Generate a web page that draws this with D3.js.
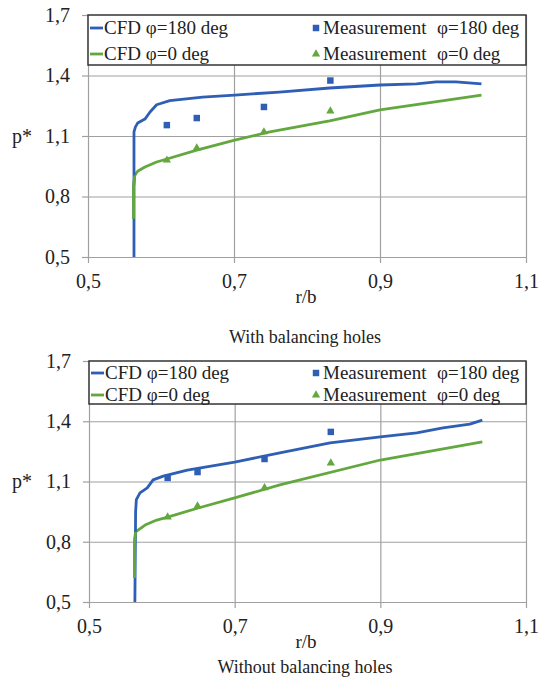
<!DOCTYPE html>
<html>
<head>
<meta charset="utf-8">
<script src="https://cdn.jsdelivr.net/npm/d3@7"></script>
<style>
body { margin: 0; background: #fff; }
svg text { font-family: "Liberation Serif", "Times New Roman", serif; fill: #222; }
</style>
</head>
<body>
<svg id="chart" width="540" height="680"></svg>
<script>
// axis ticks
var xTicks = [0.5, 0.7, 0.9, 1.1];
var xTickLabels = ["0,5", "0,7", "0,9", "1,1"];
var yTicks = [0.5, 0.8, 1.1, 1.4, 1.7];
var yTickLabels = ["0,5", "0,8", "1,1", "1,4", "1,7"];

// with balancing holes
var topCfd180X = [0.563, 0.563, 0.565, 0.568, 0.578, 0.585, 0.594, 0.612, 0.657, 0.701, 0.762, 0.831, 0.9, 0.95, 0.977, 1.004, 1.039];
var topCfd180Y = [0.5, 1.12, 1.145, 1.164, 1.184, 1.219, 1.255, 1.275, 1.293, 1.303, 1.318, 1.338, 1.353, 1.358, 1.368, 1.368, 1.358];
var topCfd0X = [0.5625, 0.5625, 0.564, 0.568, 0.578, 0.594, 0.608, 0.649, 0.701, 0.749, 0.831, 0.9, 1.039];
var topCfd0Y = [0.69, 0.85, 0.905, 0.925, 0.946, 0.971, 0.986, 1.03, 1.08, 1.12, 1.175, 1.229, 1.303];

// without balancing holes
var botCfd180X = [0.563, 0.564, 0.565, 0.570, 0.580, 0.588, 0.602, 0.635, 0.700, 0.762, 0.831, 0.9, 0.95, 0.986, 1.023, 1.04];
var botCfd180Y = [0.5, 0.95, 1.01, 1.043, 1.068, 1.108, 1.127, 1.157, 1.197, 1.242, 1.292, 1.322, 1.342, 1.367, 1.386, 1.406];
var botCfd0X = [0.5625, 0.5625, 0.564, 0.577, 0.593, 0.608, 0.65, 0.7, 0.762, 0.9, 1.04];
var botCfd0Y = [0.62, 0.80, 0.849, 0.883, 0.908, 0.923, 0.968, 1.018, 1.083, 1.207, 1.297];

// measurements
var measX = [0.608, 0.649, 0.741, 0.832];
var topMeas180 = [1.154, 1.189, 1.244, 1.375];
var topMeas0 = [0.98, 1.04, 1.12, 1.224];
var botMeas180 = [1.118, 1.147, 1.212, 1.347];
var botMeas0 = [0.923, 0.978, 1.068, 1.192];

var blue = "#2f5fb5";
var green = "#63a83f";
var grid = "#a0a0a0";

var svg = d3.select("#chart");

function drawPanel(p) {
    var x = d3.scaleLinear().domain([0.5, 1.1]).range([p.left, p.right]);
    var y = d3.scaleLinear().domain([0.5, 1.7]).range([p.bottom, p.top]);
    var g = svg.append("g");

    // gridlines
    g.append("g").attr("transform", "translate(" + p.left + ",0)")
        .call(d3.axisLeft(y).tickValues(yTicks).tickSize(-(p.right - p.left)).tickFormat(""))
        .call(function (s) { s.select(".domain").remove(); s.selectAll("line").attr("stroke", grid).attr("stroke-width", 1.2); });
    g.append("g").attr("transform", "translate(0," + p.bottom + ")")
        .call(d3.axisBottom(x).tickValues(xTicks.slice(1)).tickSize(-(p.bottom - p.top)).tickFormat(""))
        .call(function (s) { s.select(".domain").remove(); s.selectAll("line").attr("stroke", grid).attr("stroke-width", 1.2); });

    // axes
    g.append("g").attr("transform", "translate(" + p.left + ",0)")
        .call(d3.axisLeft(y).tickValues(yTicks).tickSize(6).tickSizeOuter(0).tickPadding(12)
            .tickFormat(function (d, i) { return yTickLabels[i]; }))
        .call(function (s) {
            s.select(".domain").attr("stroke", grid).attr("stroke-width", 1.2);
            s.selectAll("line").attr("stroke", grid).attr("stroke-width", 1.2);
            s.selectAll("text").attr("font-size", 20).attr("fill", "#222");
        });
    g.append("g").attr("transform", "translate(0," + p.bottom + ")")
        .call(d3.axisBottom(x).tickValues(xTicks).tickSize(6).tickSizeOuter(0).tickPadding(11)
            .tickFormat(function (d, i) { return xTickLabels[i]; }))
        .call(function (s) {
            s.select(".domain").attr("stroke", grid).attr("stroke-width", 1.2);
            s.selectAll("line").attr("stroke", grid).attr("stroke-width", 1.2);
            s.selectAll("text").attr("font-size", 20).attr("fill", "#222");
        });

    // lines
    var line = d3.line().x(function (d) { return x(d[0]); }).y(function (d) { return y(d[1]); });
    g.append("path").datum(d3.zip(p.cfd0X, p.cfd0Y)).attr("d", line)
        .attr("fill", "none").attr("stroke", green).attr("stroke-width", 2.8).attr("stroke-linejoin", "round");
    g.append("path").datum(d3.zip(p.cfd180X, p.cfd180Y)).attr("d", line)
        .attr("fill", "none").attr("stroke", blue).attr("stroke-width", 2.8).attr("stroke-linejoin", "round");
    // lower green piece sits on top of blue in the original
    g.append("path").datum(d3.zip(p.cfd0X, p.cfd0Y).slice(0, 3)).attr("d", line)
        .attr("fill", "none").attr("stroke", green).attr("stroke-width", 2.8);

    // markers
    var sq = d3.symbol().type(d3.symbolSquare).size(42);
    var tri = d3.symbol().type(d3.symbolTriangle).size(30);
    g.selectAll(".m180").data(d3.zip(measX, p.meas180)).enter().append("path")
        .attr("d", sq).attr("fill", blue)
        .attr("transform", function (d) { return "translate(" + x(d[0]) + "," + y(d[1]) + ")"; });
    g.selectAll(".m0").data(d3.zip(measX, p.meas0)).enter().append("path")
        .attr("d", tri).attr("fill", green)
        .attr("transform", function (d) { return "translate(" + x(d[0]) + "," + y(d[1]) + ")"; });

    // legend
    var lg = g.append("g");
    lg.append("rect").attr("x", p.left).attr("y", p.top).attr("width", p.right - p.left).attr("height", p.legendH)
        .attr("fill", "#fff").attr("stroke", "#333").attr("stroke-width", 1.5);
    var rows = [p.top + p.row1, p.top + p.row2];
    var cols = [blue, green];
    var names = ["\u03c6=180 deg", "\u03c6=0 deg"];
    for (var i = 0; i < 2; i++) {
        lg.append("line").attr("x1", p.left + 2).attr("x2", p.left + 15).attr("y1", rows[i]).attr("y2", rows[i])
            .attr("stroke", cols[i]).attr("stroke-width", 2.8);
        lg.append("text").attr("x", p.left + 16).attr("y", rows[i]).attr("dy", "0.33em").attr("font-size", 19)
            .text("CFD " + names[i]);
        lg.append("path").attr("d", i == 0 ? sq : tri).attr("fill", cols[i])
            .attr("transform", "translate(" + 316 + "," + rows[i] + ")");
        lg.append("text").attr("x", 323).attr("y", rows[i]).attr("dy", "0.33em").attr("font-size", 19)
            .text("Measurement");
        lg.append("text").attr("x", 437).attr("y", rows[i]).attr("dy", "0.33em").attr("font-size", 19)
            .text(names[i]);
    }

    // labels
    g.append("text").attr("x", 22).attr("y", y(1.1)).attr("dy", "0.33em").attr("text-anchor", "middle")
        .attr("font-size", 20).text("p*");
    g.append("text").attr("x", 306).attr("y", p.rbY).attr("dy", "0.33em").attr("text-anchor", "middle")
        .attr("font-size", 19).text("r/b");
    g.append("text").attr("x", 305).attr("y", p.titleY).attr("dy", "0.33em").attr("text-anchor", "middle")
        .attr("font-size", 18).text(p.title);
}

drawPanel({
    left: 88, right: 526, top: 15, bottom: 257, legendH: 50, row1: 13, row2: 39,
    rbY: 297, titleY: 337, title: "With balancing holes",
    cfd180X: topCfd180X, cfd180Y: topCfd180Y, cfd0X: topCfd0X, cfd0Y: topCfd0Y,
    meas180: topMeas180, meas0: topMeas0
});
drawPanel({
    left: 89, right: 526, top: 361, bottom: 602, legendH: 43, row1: 12, row2: 34,
    rbY: 642, titleY: 667, title: "Without balancing holes",
    cfd180X: botCfd180X, cfd180Y: botCfd180Y, cfd0X: botCfd0X, cfd0Y: botCfd0Y,
    meas180: botMeas180, meas0: botMeas0
});
</script>
</body>
</html>
